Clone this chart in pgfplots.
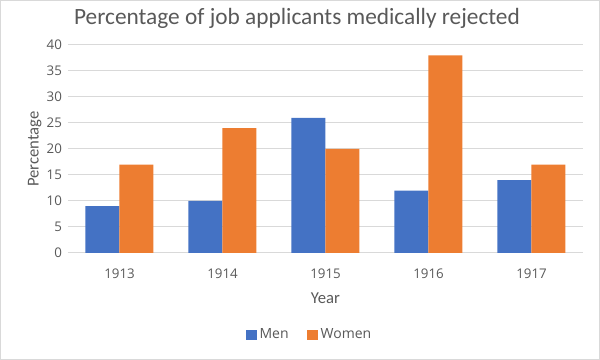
\documentclass[border=0pt]{standalone}
\usepackage{pgfplots}
\pgfplotsset{compat=1.18}
\usepackage{fontspec}
\setmainfont{Carlito}
\newfontfamily\tickfont{Open Sans}
\definecolor{menc}{HTML}{4472C4}
\definecolor{womc}{HTML}{ED7D31}
\definecolor{txt}{HTML}{595959}
\definecolor{gridc}{HTML}{D9D9D9}
\begin{document}
\begin{tikzpicture}[x=0.75pt,y=0.75pt]
\path[use as bounding box] (0,0) rectangle (600,360);
\draw[gridc] (0.5,0.5) rectangle (599.5,359.5);
\node[txt,font=\fontsize{17.5}{20}\selectfont] at (297,342) {Percentage of job applicants medically rejected};
\begin{axis}[
  at={(68pt*0.75,107pt*0.75)}, anchor=south west,
  scale only axis, width=386.25pt, height=156pt,
  ybar=0pt, bar width=25.5pt,
  ymin=0, ymax=40, ytick={0,5,...,40},
  xmin=-0.5, xmax=4.5, xtick={0,1,2,3,4},
  xticklabels={1913,1914,1915,1916,1917},
  ymajorgrids, grid style={gridc, line width=0.75pt},
  axis x line*=bottom, axis y line*=left,
  x axis line style={gridc, line width=0.75pt, -},
  y axis line style={draw=none},
  tick style={draw=none},
  ticklabel style={font=\tickfont\fontsize{10}{11}\selectfont, text=txt},
  yticklabel style={xshift=-1pt},
  xticklabel style={yshift=-4pt},
  /pgf/number format/assume math mode=true,
  xlabel={Year}, ylabel={Percentage},
  label style={font=\fontsize{12.5}{13}\selectfont, text=txt},
  xlabel style={yshift=-4pt},
  ylabel style={yshift=-3pt},
  legend style={at={(0.47,-0.394)}, anchor=center, draw=none, legend columns=2,
    font=\tickfont\fontsize{10.5}{11}\selectfont, text=txt,
    /tikz/every even column/.append style={column sep=12pt}},
  legend image code/.code={\fill[#1] (0pt,-4pt) rectangle (8pt,4pt);},
]
\addplot[fill=menc, draw=none] coordinates {(0,9) (1,10) (2,26) (3,12) (4,14)};
\addplot[fill=womc, draw=none] coordinates {(0,17) (1,24) (2,20) (3,38) (4,17)};
\legend{Men,Women}
\end{axis}
\end{tikzpicture}
\end{document}
